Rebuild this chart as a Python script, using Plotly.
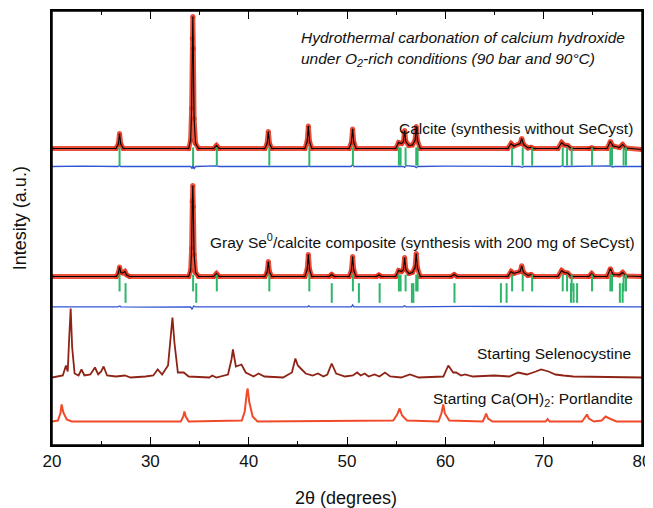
import plotly.graph_objects as go

# ---------------- data (intensity above each pattern's own baseline, a.u.) ----------------
CALCITE_OBS = [(20,0),(26.5,0),(26.75,4.5),(26.87,15),(26.99,4.5),(27.25,0),
    (33.9,0),(34.1,8),(34.2,40),(34.27,110),(34.32,132),(34.37,100),(34.45,30),(34.6,5),(34.9,0),
    (36.45,0),(36.73,3),(37.0,0),
    (41.65,0),(41.88,5),(42.0,17),(42.12,5),(42.35,0),
    (45.72,0),(45.95,7),(46.07,22.6),(46.19,7),(46.42,0),
    (50.22,0),(50.45,6),(50.57,19.6),(50.69,6),(50.92,0),
    (54.95,0),(55.25,6),(55.55,5),(55.74,7),(55.86,18),(55.98,7),(56.3,3),(56.65,3.5),(56.92,8),(57.04,22),(57.16,8),(57.45,0),
    (66.35,0),(66.69,5),(66.95,2.5),(67.6,5),(67.77,10),(67.95,4),(68.4,0.5),(68.72,1.2),(69.0,0),
    (71.45,0),(71.83,6),(72.1,3.5),(72.44,3),(72.8,0),
    (74.6,0),(74.88,1),(75.15,0),
    (76.45,0),(76.78,7),(77.05,2.5),(77.7,1),(78.03,4),(78.35,0.5),(80,-1)]

CALCITE_DIFF = [(20,0),(23,0.4),(26.7,0),(26.87,1),(27.0,0),(30,0.3),(34.1,0),(34.25,-2),(34.35,1.5),(34.45,-2.5),(34.6,0),
    (36.7,0.6),(37,0),(46.0,0),(46.1,0.7),(46.2,0),(50.4,0),(50.57,1.8),(50.7,0),(55.7,0),(55.86,-1),(56.0,0.8),
    (56.9,0),(57.04,-1.2),(57.2,0),(60,0.3),(67.6,0),(67.8,-0.8),(68.0,0),(71.7,0),(71.9,0.8),(72.1,0),
    (76.6,0),(76.8,0.6),(77.0,-0.5),(77.2,0),(80,0)]

COMPOSITE_OBS = [(20,0),(26.55,0),(26.75,3.5),(26.87,9.6),(27.0,4),(27.2,3.5),(27.41,5),(27.6,1.5),(27.9,0),
    (33.9,0),(34.1,6),(34.2,28),(34.27,75),(34.32,91),(34.37,70),(34.45,22),(34.6,4),(34.9,0),
    (36.45,0),(36.73,3),(37.0,0),
    (41.65,0),(41.88,4.5),(42.0,15),(42.12,4.5),(42.35,0),
    (45.72,0),(45.95,7),(46.07,22),(46.19,7),(46.42,0),
    (48.2,0),(48.44,2),(48.7,0),
    (50.22,0),(50.45,6),(50.57,20),(50.69,6),(50.92,0),
    (53.0,0),(53.24,1.5),(53.5,0),
    (54.95,0),(55.25,6),(55.55,5),(55.74,7),(55.86,19),(55.98,7),(56.3,3),(56.65,4),(56.92,9),(57.04,23),(57.16,8.5),(57.45,0),
    (60.6,0),(60.9,2),(61.2,0),
    (66.35,0),(66.69,5),(66.95,3),(67.6,5),(67.77,10.7),(67.95,4),(68.4,1),(68.72,2),(69.0,0),
    (71.45,0),(71.83,6),(72.1,4),(72.44,3.5),(72.8,0),
    (74.6,0),(74.88,3),(75.15,0),
    (76.45,0),(76.78,7.7),(77.05,2),(77.7,1.5),(78.03,4),(78.35,0.5),(80,0)]

COMPOSITE_DIFF = [(20,0),(24,0.4),(26.7,0),(26.9,0.8),(27.0,0),(30,-0.4),(34.1,0),(34.25,-2.5),(34.4,0.8),(34.6,0),
    (41.9,0),(42.0,0.5),(42.1,0),(46.0,0),(46.1,1),(46.25,0),(50.45,0),(50.57,1.8),(50.7,0),
    (55.7,0),(55.86,1),(56.0,0),(62,0.4),(67.8,0.5),(68.2,0),(72,0.6),(72.5,0),(80,0)]

CALCITE_BRAGG = [26.87, 34.35, 36.76, 42.1, 46.17, 50.6, 55.28, 55.45, 55.96, 57.04, 57.18,
                 66.79, 67.87, 68.83, 71.94, 72.38, 72.85, 74.92, 76.78, 76.95, 78.13, 78.37]
SELENIUM_BRAGG = [27.48, 34.67, 48.45, 51.21, 53.32, 56.6, 56.75, 60.93, 65.65, 66.23,
                  72.78, 73.04, 73.4, 77.75, 78.03]

SELENOCYSTINE = [(20,0),(21.1,2),(21.42,12),(21.6,6),(21.75,40),(21.9,69),(22.05,30),(22.3,4),(22.7,2),(23.0,8),
    (23.3,2),(23.9,3),(24.37,10),(24.7,3),(25.0,6),(25.25,11),(25.6,2),(26.5,1),(27.4,2),(28.0,0),(29.5,1),
    (30.3,2),(30.75,8),(31.2,3),(31.8,12),(32.05,40),(32.25,60),(32.45,35),(32.8,5),(33.4,5),(33.9,1),
    (36.0,0),(36.3,2),(36.7,0),(37.9,3),(38.25,18),(38.4,28),(38.7,11),(39.27,13),(39.7,5),(40.5,1),
    (41.0,4),(41.6,1),(43.5,0),(44.4,5),(44.75,19),(45.0,12),(45.3,9),(45.8,4),(46.5,2),(47.05,4),
    (47.6,1),(48.0,3),(48.44,14),(48.9,4),(49.8,1),(50.6,2),(51.03,5),(51.4,2),(51.8,4),(52.2,1),
    (52.8,3),(53.3,1),(53.86,5),(54.4,1),(55.5,0),(56.4,3),(57.3,0),(59.8,1),(60.3,12),(60.8,5),
    (61.1,5),(61.6,2),(62.0,3),(62.8,1),(65.0,2),(66.5,1),(67.4,5),(68.3,3),(69.2,6),(69.74,8),
    (70.5,6),(71.2,3),(72.0,2),(73.0,1),(80,0)]

PORTLANDITE = [(20,0),(20.6,1),(20.85,8),(20.98,17),(21.15,9),(21.5,2),(22,0),(33.1,0),(33.35,5),(33.47,10),
    (33.6,5),(33.9,0),(39.3,1),(39.6,10),(39.8,28),(39.9,33),(40.05,20),(40.4,5),(40.9,0),(54.7,1),
    (55.1,7),(55.35,13),(55.6,6),(56.1,1),(59.3,0),(59.6,8),(59.79,17),(59.95,8),(60.4,1),(63.8,0),
    (64.0,4),(64.15,8),(64.35,3),(64.8,0),(70.2,0),(70.4,2.5),(70.6,0),(73.9,0),(74.2,4),(74.4,7),
    (74.6,3),(75.1,0),(75.9,1),(76.3,5),(76.7,3),(77.4,0),(80,0)]

X_TICKS = [20, 30, 40, 50, 60, 70, 80]

# ---------------- layout constants (vertical stacking offsets) ----------------
OFF_CALCITE = 296.5
OFF_CALCITE_TICKS = 288.5
OFF_CALCITE_DIFF = 278.5
OFF_COMP = 168.5
OFF_COMP_TICKS_CC = 162
OFF_COMP_TICKS_SE = 152
OFF_COMP_DIFF = 138.2
OFF_SELENO = 67.5
OFF_PORT = 23.5

RED = "rgba(232,52,28,0.85)"
GREEN = "#2db56a"
BLUE = "#2f55d4"
FONT = "Liberation Sans, Arial, sans-serif"


def xs(pairs):
    return [p[0] for p in pairs]


def ys(pairs, off):
    return [p[1] + off for p in pairs]


fig = go.Figure()

# observed (red) + fit (black) for calcite and composite
for data, off in [(CALCITE_OBS, OFF_CALCITE), (COMPOSITE_OBS, OFF_COMP)]:
    fig.add_trace(go.Scatter(x=xs(data), y=ys(data, off), mode="lines+markers",
                             line=dict(color=RED, width=5), marker=dict(color=RED, size=5)))
    fig.add_trace(go.Scatter(x=xs(data), y=ys(data, off), mode="lines",
                             line=dict(color="black", width=1.1)))

# difference curves
for data, off in [(CALCITE_DIFF, OFF_CALCITE_DIFF), (COMPOSITE_DIFF, OFF_COMP_DIFF)]:
    fig.add_trace(go.Scatter(x=xs(data), y=ys(data, off), mode="lines",
                             line=dict(color=BLUE, width=1.3)))

# Bragg position ticks
for pos, off, size in [(CALCITE_BRAGG, OFF_CALCITE_TICKS, 13),
                       (CALCITE_BRAGG, OFF_COMP_TICKS_CC, 12),
                       (SELENIUM_BRAGG, OFF_COMP_TICKS_SE, 14)]:
    fig.add_trace(go.Scatter(x=pos, y=[off] * len(pos), mode="markers",
                             marker=dict(symbol="line-ns", size=size,
                                         line=dict(color=GREEN, width=2))))

# starting materials
fig.add_trace(go.Scatter(x=xs(SELENOCYSTINE), y=ys(SELENOCYSTINE, OFF_SELENO), mode="lines",
                         line=dict(color="#8e2316", width=1.8)))
fig.add_trace(go.Scatter(x=xs(PORTLANDITE), y=ys(PORTLANDITE, OFF_PORT), mode="lines",
                         line=dict(color="#f04a2a", width=2)))

annots = [
    dict(x=45.09, y=407.5, text="<i>Hydrothermal carbonation of calcium hydroxide</i>", xanchor="left"),
    dict(x=45.09, y=386, text="<i>under O<sub>2</sub>-rich conditions (90 bar and 90°C)</i>", xanchor="left"),
    dict(x=79.32, y=316.4, text="Calcite (synthesis without SeCyst)", xanchor="right"),
    dict(x=79.52, y=204.3, text="Gray Se<sup>0</sup>/calcite composite (synthesis with 200 mg of SeCyst)", xanchor="right"),
    dict(x=79.12, y=92, text="Starting Selenocystine", xanchor="right"),
    dict(x=79.26, y=46, text="Starting Ca(OH)<sub>2</sub>: Portlandite", xanchor="right"),
]
for a in annots:
    fig.add_annotation(xref="x", yref="y", showarrow=False, yanchor="middle",
                       font=dict(family=FONT, size=15.5, color="#111"), **a)

fig.add_annotation(xref="paper", yref="paper", x=0.498, y=-0.122, text="2θ (degrees)",
                   showarrow=False, xanchor="center", yanchor="middle",
                   font=dict(family=FONT, size=18, color="#111"))
fig.add_annotation(xref="paper", yref="paper", x=-0.054, y=0.523, text="Intesity (a.u.)",
                   showarrow=False, xanchor="center", yanchor="middle", textangle=-90,
                   font=dict(family=FONT, size=18, color="#111"))

# plot frame
fig.add_shape(type="rect", xref="paper", yref="paper", x0=0, x1=1, y0=0, y1=1,
              line=dict(color="black", width=1.5), layer="above")

# the page body adds an 8 px margin, so the figure is sized/margined to compensate
fig.update_layout(
    width=645, height=500,
    margin=dict(l=44, r=11, t=3, b=63, autoexpand=False),
    plot_bgcolor="white", paper_bgcolor="white",
    showlegend=False,
    xaxis=dict(range=[20, 80], tickvals=X_TICKS, ticks="inside", ticklen=8, tickwidth=1.3,
               tickcolor="black", showline=True, linecolor="black", linewidth=1.5,
               mirror="allticks", showgrid=False, zeroline=False, automargin=False,
               tickfont=dict(family=FONT, size=17, color="#111"),
               minor=dict(dtick=5, tick0=25, ticks="inside", ticklen=4, tickwidth=1.3,
                          tickcolor="black", showgrid=False)),
    yaxis=dict(range=[0, 434], showticklabels=False, ticks="", showline=True, linecolor="black",
               linewidth=1.5, mirror="all", showgrid=False, zeroline=False, automargin=False),
)

fig.write_html("out.html")
